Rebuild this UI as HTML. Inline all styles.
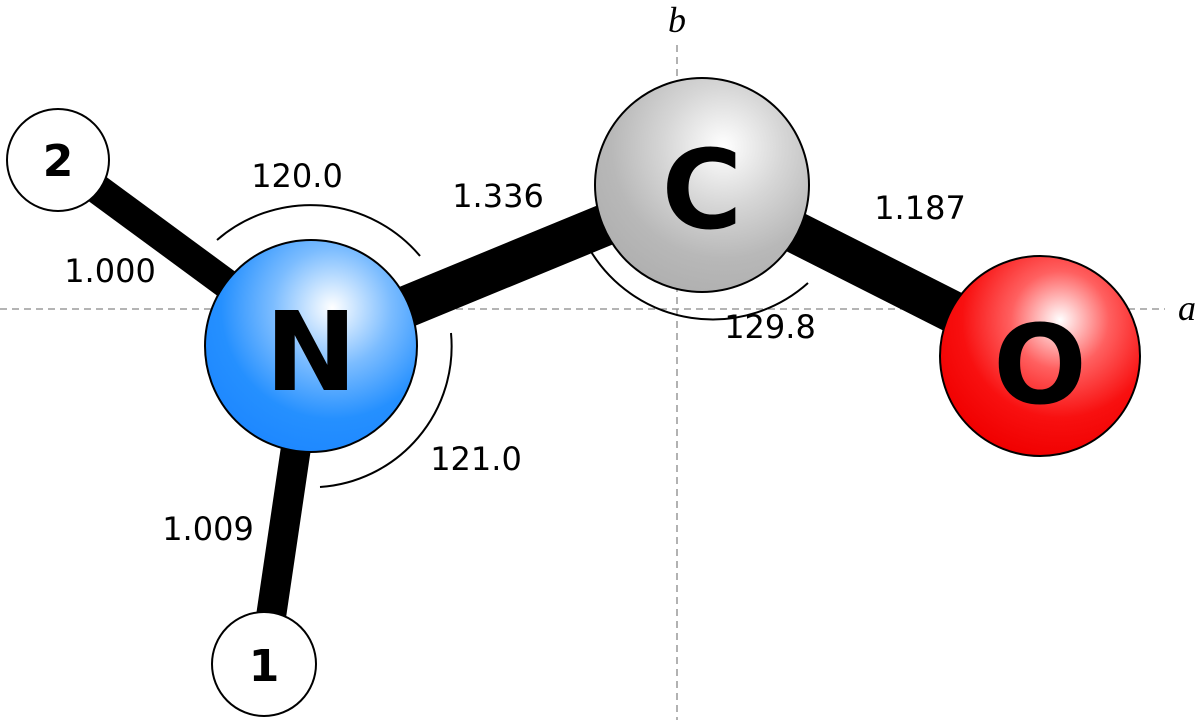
<!DOCTYPE html>
<html><head><style>html,body{margin:0;padding:0;background:#fff;}svg{display:block}</style></head>
<body>
<svg width="1200" height="720" viewBox="0 0 1200 720" xmlns="http://www.w3.org/2000/svg">
<defs>
<radialGradient id="gN" cx="0.6" cy="0.32" r="0.7"><stop offset="0" stop-color="#ffffff"/><stop offset="0.4" stop-color="#7bbcff"/><stop offset="0.75" stop-color="#2590ff"/><stop offset="1" stop-color="#1e88ff"/></radialGradient>
<radialGradient id="gC" cx="0.6" cy="0.32" r="0.7"><stop offset="0" stop-color="#ffffff"/><stop offset="0.4" stop-color="#d6d6d6"/><stop offset="0.75" stop-color="#b8b8b8"/><stop offset="1" stop-color="#b0b0b0"/></radialGradient>
<radialGradient id="gO" cx="0.6" cy="0.32" r="0.7"><stop offset="0" stop-color="#ffffff"/><stop offset="0.35" stop-color="#ff6060"/><stop offset="0.7" stop-color="#f81010"/><stop offset="1" stop-color="#f00000"/></radialGradient>
</defs>
<g stroke="#888" stroke-width="1.3" stroke-dasharray="7,5">
<line x1="0" y1="309" x2="1165" y2="309"/>
<line x1="677" y1="45" x2="677" y2="720"/>
</g>
<text x="1187" y="320" font-family="Liberation Serif,serif" font-style="italic" font-size="36" text-anchor="middle">a</text>
<text x="677" y="32" font-family="Liberation Serif,serif" font-style="italic" font-size="36" text-anchor="middle">b</text>
<g stroke="#000" stroke-linecap="butt">
<line x1="58" y1="160" x2="311" y2="346" stroke-width="30"/>
<line x1="264" y1="664" x2="311" y2="346" stroke-width="30"/>
<line x1="311" y1="346" x2="702" y2="185" stroke-width="42"/>
<line x1="702" y1="185" x2="1040" y2="356" stroke-width="42"/>
</g>
<g fill="none" stroke="#000" stroke-width="2">
<path d="M217 240 A143 143 0 0 1 420 256"/>
<path d="M451 333 A141 141 0 0 1 320 487"/>
<path d="M590 250 A143 143 0 0 0 808 283"/>
</g>
<circle cx="58" cy="160" r="51" fill="#fff" stroke="#000" stroke-width="2"/>
<circle cx="264" cy="664" r="52" fill="#fff" stroke="#000" stroke-width="2"/>
<circle cx="311" cy="346" r="106" fill="url(#gN)" stroke="#000" stroke-width="2"/>
<circle cx="702" cy="185" r="107" fill="url(#gC)" stroke="#000" stroke-width="2"/>
<circle cx="1040" cy="356" r="100" fill="url(#gO)" stroke="#000" stroke-width="2"/>
<g font-family="DejaVu Sans,Liberation Sans,sans-serif" font-weight="bold" text-anchor="middle">
<text x="58" y="176" font-size="44">2</text>
<text x="264" y="681" font-size="44">1</text>
<text x="311" y="390" font-size="110">N</text>
<text x="702" y="228" font-size="110">C</text>
<text x="1040" y="403" font-size="110">O</text>
</g>
<g font-family="DejaVu Sans,Liberation Sans,sans-serif" font-size="32" text-anchor="middle">
<text x="297" y="187">120.0</text>
<text x="498" y="207">1.336</text>
<text x="110" y="282">1.000</text>
<text x="920" y="219">1.187</text>
<text x="770" y="338">129.8</text>
<text x="476" y="470">121.0</text>
<text x="208" y="540">1.009</text>
</g>
</svg>
</body></html>
